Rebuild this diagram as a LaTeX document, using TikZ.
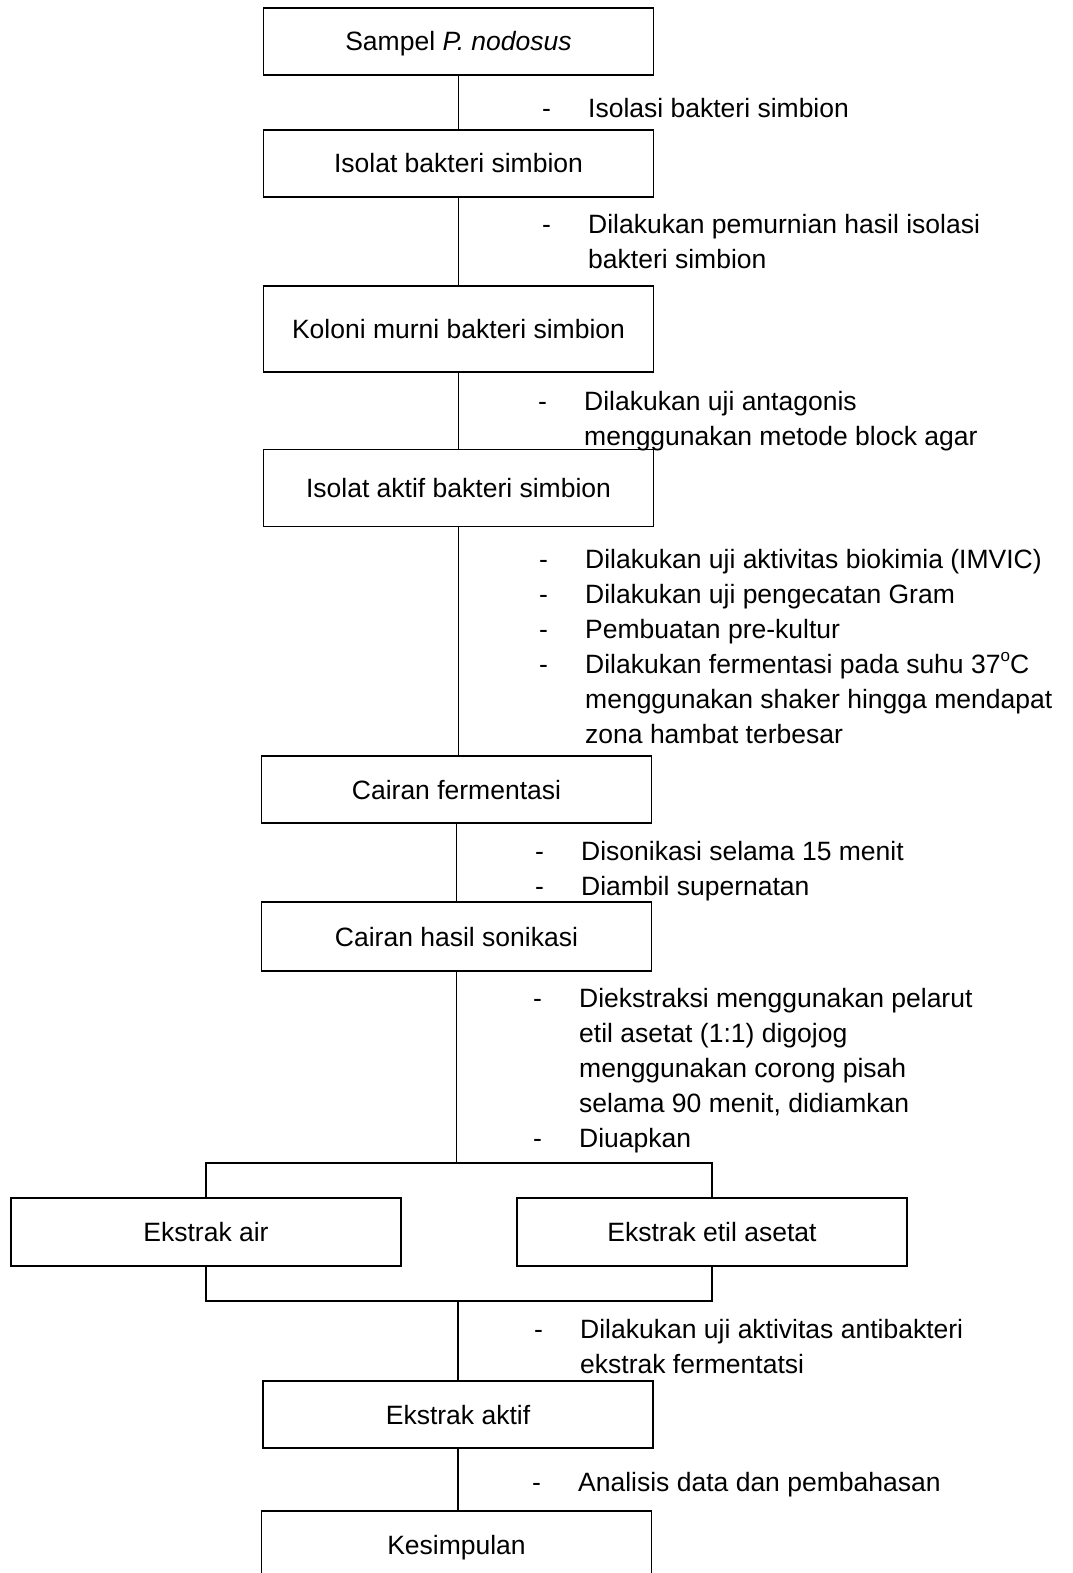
\documentclass[tikz,border=0pt]{standalone}
\usepackage{fontspec}
\setmainfont{Liberation Sans}
\usepackage{array}
\newcommand\fsz{\fontsize{26.5}{35}\selectfont}
\newcommand\note[2]{\begin{tabular}[t]{@{}p{#1}@{}l@{}}#2\end{tabular}}
\newcommand\dego{\raisebox{0.42em}{\fontsize{17}{17}\selectfont o}}
\begin{document}
\begin{tikzpicture}[x=1pt,y=-1pt,
  box/.style={draw, line width=1.1pt, inner sep=0pt, minimum width=390pt, font=\fsz, text height=19pt, text depth=0pt},
  conn/.style={line width=1.6pt},
  ann/.style={anchor=base west, inner sep=0pt, font=\fsz}]
\useasboundingbox (0,0) rectangle (1072,1573);
% boxes
\node[box, minimum height=67pt] (b1) at (458.5,41.5) {Sampel \textit{P. nodosus}};
\node[box, minimum height=67pt] (b2) at (458.5,163.5) {Isolat bakteri simbion};
\node[box, minimum height=86pt] (b3) at (458.5,329) {Koloni murni bakteri simbion};
\node[box, minimum height=77pt] (b4) at (458.5,488) {Isolat aktif bakteri simbion};
\node[box, minimum height=67pt] (b5) at (456.5,789.5) {Cairan fermentasi};
\node[box, minimum height=69pt] (b6) at (456.5,936.5) {Cairan hasil sonikasi};
\node[box, minimum height=68pt] (b7) at (206,1232) {Ekstrak air};
\node[box, minimum height=68pt] (b8) at (712,1232) {Ekstrak etil asetat};
\node[box, minimum height=67pt] (b9) at (458,1414.5) {Ekstrak aktif};
\node[box, minimum height=68pt] (b10) at (456.5,1545) {Kesimpulan};
% junctions
\coordinate (jt) at (457,1163);
\coordinate (jb) at (458,1301);
% connectors
\draw[conn] (b1.south) -- (b1.south |- b2.north);
\draw[conn] (b2.south) -- (b2.south |- b3.north);
\draw[conn] (b3.south) -- (b3.south |- b4.north);
\draw[conn] (b4.south) -- (b4.south |- b5.north);
\draw[conn] (b5.south) -- (b5.south |- b6.north);
\draw[conn] (b6.south) -- (b6.south |- jt);
\draw[conn] (b7.north) |- (jt -| b8.north) -- (b8.north);
\draw[conn] (b7.south) |- (jb -| b8.south) -- (b8.south);
\draw[conn] (jb) -- (b9.north);
\draw[conn] (b9.south) -- (b9.south |- b10.north);
% annotations
\node[ann] (n1) at (542,118) {\note{46pt}{-&Isolasi bakteri simbion}};
\node[ann] (n2) at (542,233.5) {\note{46pt}{-&Dilakukan pemurnian hasil isolasi\\&bakteri simbion}};
\node[ann] (n3) at (538,410) {\note{46pt}{-&Dilakukan uji antagonis\\&menggunakan metode block agar}};
\node[ann] (n4) at (539,568) {\note{46pt}{-&Dilakukan uji aktivitas biokimia (IMVIC)\\-&Dilakukan uji pengecatan Gram\\-&Pembuatan pre-kultur\\-&Dilakukan fermentasi pada suhu 37\dego C\\&menggunakan shaker hingga mendapat\\&zona hambat terbesar}};
\node[ann] (n5) at (535,860) {\note{46pt}{-&Disonikasi selama 15 menit\\-&Diambil supernatan}};
\node[ann] (n6) at (533,1007) {\note{46pt}{-&Diekstraksi menggunakan pelarut\\&etil asetat (1:1) digojog\\&menggunakan corong pisah\\&selama 90 menit, didiamkan\\-&Diuapkan}};
\node[ann] (n7) at (534,1338) {\note{46pt}{-&Dilakukan uji aktivitas antibakteri\\&ekstrak fermentatsi}};
\node[ann] (n8) at (532,1491) {\note{46pt}{-&Analisis data dan pembahasan}};
\end{tikzpicture}
\end{document}
